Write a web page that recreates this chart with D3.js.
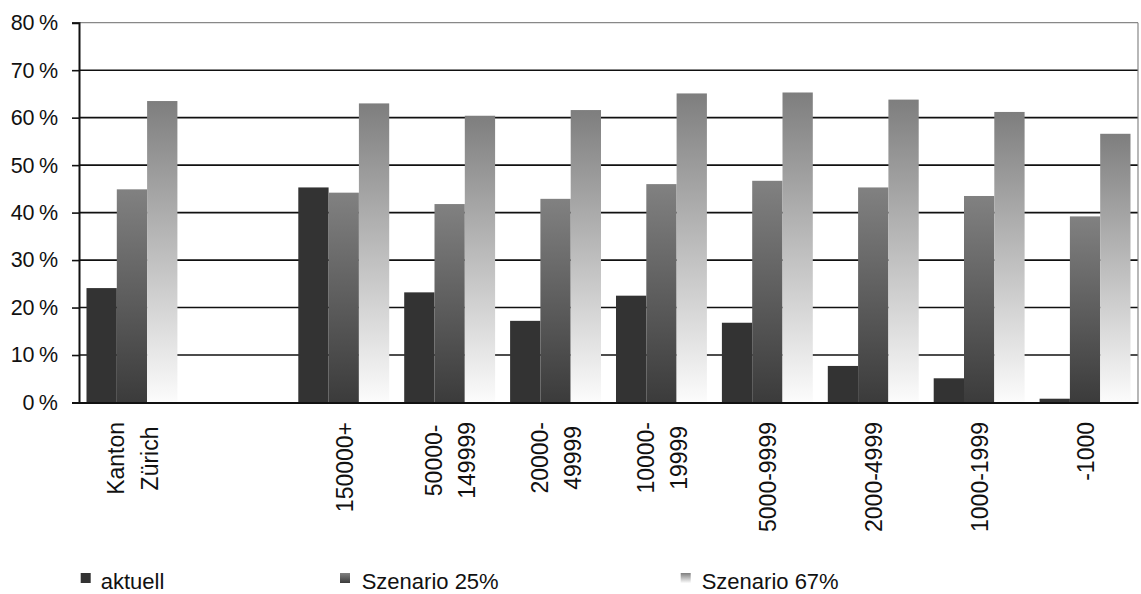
<!DOCTYPE html>
<html>
<head>
<meta charset="utf-8">
<script src="https://cdn.jsdelivr.net/npm/d3@7"></script>
<style>
  html, body { margin: 0; padding: 0; background: #fff; }
  svg { display: block; }
  text { font-family: "Liberation Sans", Arial, sans-serif; fill: #111; }
</style>
</head>
<body>
<svg id="chart" width="1141" height="594"></svg>
<script>
// Categories (municipality size classes); an empty slot separates the canton total
const categories = ["Kanton Zürich", "gap", "150000+", "50000-149999", "20000-49999",
  "10000-19999", "5000-9999", "2000-4999", "1000-1999", "-1000"];
const categoryLines = [["Kanton", "Zürich"], [], ["150000+"], ["50000-", "149999"],
  ["20000-", "49999"], ["10000-", "19999"], ["5000-9999"], ["2000-4999"], ["1000-1999"], ["-1000"]];

const seriesNames = ["aktuell", "Szenario 25%", "Szenario 67%"];
// Shares in percent
const aktuell     = [24.1, null, 45.3, 23.2, 17.2, 22.5, 16.8, 7.7, 5.1, 0.8];
const szenario25  = [44.9, null, 44.2, 41.8, 42.9, 46.0, 46.7, 45.3, 43.5, 39.2];
const szenario67  = [63.5, null, 63.0, 60.4, 61.6, 65.1, 65.3, 63.8, 61.2, 56.6];
const yTicks = [0, 10, 20, 30, 40, 50, 60, 70, 80];

const seriesValues = [aktuell, szenario25, szenario67];

const svg = d3.select("#chart");
const plot = { left: 79, right: 1138, top: 22.7, bottom: 402.5 };

const x = d3.scaleBand()
  .domain(categories)
  .range([plot.left, plot.right])
  .paddingInner(0.1416)
  .paddingOuter(0.0708);
const xs = d3.scaleBand().domain(seriesNames).range([0, x.bandwidth()]);
const y = d3.scaleLinear().domain([0, 80]).range([plot.bottom, plot.top]);

// Gradient fills (per bar, top to bottom)
const defs = svg.append("defs");
function vGrad(id, top, bottom) {
  const g = defs.append("linearGradient").attr("id", id)
    .attr("x1", 0).attr("y1", 0).attr("x2", 0).attr("y2", 1);
  g.append("stop").attr("offset", "0%").attr("stop-color", top);
  g.append("stop").attr("offset", "100%").attr("stop-color", bottom);
}
vGrad("g25", "#818181", "#3b3b3b");
vGrad("g67", "#7e7e7e", "#fcfcfc");
const fills = ["#333333", "url(#g25)", "url(#g67)"];

// Horizontal gridlines
svg.append("g").selectAll("line")
  .data(yTicks.filter(t => t > 0 && t < 80))
  .join("line")
  .attr("x1", plot.left).attr("x2", plot.right)
  .attr("y1", d => y(d)).attr("y2", d => y(d))
  .attr("stroke", "#111").attr("stroke-width", 1.6);

// Plot frame: top and right edges
svg.append("line").attr("x1", plot.left).attr("x2", plot.right)
  .attr("y1", y(80)).attr("y2", y(80)).attr("stroke", "#888").attr("stroke-width", 1.2);
svg.append("line").attr("x1", plot.right).attr("x2", plot.right)
  .attr("y1", y(80)).attr("y2", y(0)).attr("stroke", "#888").attr("stroke-width", 1.2);

// Bars
const rows = [];
categories.forEach((c, i) => {
  seriesNames.forEach((s, j) => {
    const v = seriesValues[j][i];
    if (v != null) rows.push({ c, s, j, v });
  });
});
svg.append("g").selectAll("rect")
  .data(rows)
  .join("rect")
  .attr("x", d => x(d.c) + xs(d.s))
  .attr("width", xs.bandwidth())
  .attr("y", d => y(d.v))
  .attr("height", d => y(0) - y(d.v))
  .attr("fill", d => fills[d.j]);

// Y axis
const yAxis = svg.append("g").attr("transform", `translate(${plot.left},0)`)
  .call(d3.axisLeft(y).tickValues(yTicks).tickSize(7).tickPadding(14)
    .tickFormat(d => d + "\u2009%"));
yAxis.select(".domain").attr("stroke", "#111").attr("stroke-width", 2);
yAxis.selectAll(".tick line").attr("stroke", "#111").attr("stroke-width", 1.6);
yAxis.selectAll(".tick text")
  .attr("font-size", 21.5)
  .attr("font-family", "Liberation Sans, Arial, sans-serif")
  .attr("fill", "#111");

// X axis baseline
const xAxis = svg.append("g").attr("transform", `translate(0,${plot.bottom})`)
  .call(d3.axisBottom(x).tickSize(0).tickFormat(""));
xAxis.select(".domain").attr("stroke", "#111").attr("stroke-width", 2);

// Rotated category labels, each line centred in its block
const labelTop = 422;
const lineGap = 33.5;
const fs = 23;
const capH = 0.716 * fs * 1.08;
const lab = svg.append("g");
categories.forEach((c, i) => {
  const lines = categoryLines[i];
  if (!lines.length) return;
  const cx = x(c) + x.bandwidth() / 2;
  const tmp = lines.map(t => lab.append("text").attr("font-size", fs).text(t));
  const lens = tmp.map(t => t.node().getComputedTextLength());
  const maxLen = d3.max(lens);
  const cy = labelTop + maxLen / 2;
  tmp.forEach((t, k) => {
    const lx = cx + (k - (lines.length - 1) / 2) * lineGap + capH / 2;
    t.attr("text-anchor", "middle")
      .attr("transform", `translate(${lx},${cy}) rotate(-90) scale(1,1.08)`);
  });
});

// Legend
const legendPos = [{ sx: 80.7, tx: 100.7 }, { sx: 340, tx: 361.7 }, { sx: 680.7, tx: 701.7 }];
const legend = svg.append("g");
seriesNames.forEach((s, j) => {
  legend.append("rect")
    .attr("x", legendPos[j].sx).attr("y", 573).attr("width", 10).attr("height", 10)
    .attr("fill", fills[j]);
  legend.append("text")
    .attr("x", legendPos[j].tx).attr("y", 589)
    .attr("font-size", 22)
    .text(s);
});
</script>
</body>
</html>
